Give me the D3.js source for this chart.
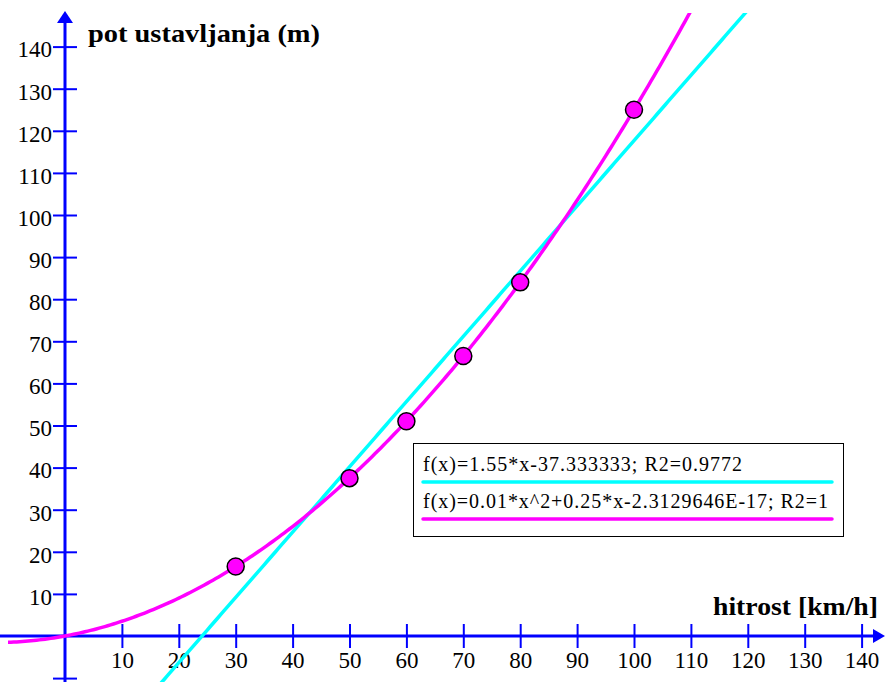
<!DOCTYPE html>
<html><head><meta charset="utf-8">
<script src="https://cdn.jsdelivr.net/npm/d3@7"></script>
<style>body{margin:0;background:#fff}svg{display:block}</style>
</head><body>
<svg id="c" width="885" height="682"></svg>
<script>
const speeds = [30, 50, 60, 70, 80, 100];
const distances = [16.5, 37.5, 51, 66.5, 84, 125];
const xTicks = [10,20,30,40,50,60,70,80,90,100,110,120,130,140];
const yTicks = [-10,10,20,30,40,50,60,70,80,90,100,110,120,130,140];
const linCoef = [1.55, -37.333333];
const quadCoef = [0.01, 0.25, -2.3129646e-17];
const legendLabels = ["f(x)=1.55*x-37.333333; R2=0.9772", "f(x)=0.01*x^2+0.25*x-2.3129646E-17; R2=1"];
const xTitle = "hitrost [km/h]";
const yTitle = "pot ustavljanja (m)";

const FONT = "'Liberation Serif'";
const W = 885, H = 682;
const x = d3.scaleLinear().domain([0, 140]).range([65, 861.6]);
const y = d3.scaleLinear().domain([0, 140]).range([636, 46.6]);
const svg = d3.select("#c");
const blue = "#0000ff", cyan = "#00ffff", mag = "#ff00ff";

svg.append("defs").append("clipPath").attr("id","clip")
  .append("rect").attr("x", 8).attr("y", 13).attr("width", W - 8).attr("height", H - 13);

// axes
svg.append("line").attr("x1", 0).attr("x2", W - 8).attr("y1", y(0)).attr("y2", y(0))
  .attr("stroke", blue).attr("stroke-width", 3);
svg.append("path").attr("d", `M${W},${y(0)} L${W-12},${y(0)-7} L${W-12},${y(0)+7} Z`).attr("fill", blue);
svg.append("line").attr("x1", x(0)).attr("x2", x(0)).attr("y1", H).attr("y2", 20)
  .attr("stroke", blue).attr("stroke-width", 3);
svg.append("path").attr("d", `M${x(0)},11 L${x(0)-8},23 L${x(0)+8},23 Z`).attr("fill", blue);

const xa = svg.append("g").attr("transform", `translate(0,${y(0)})`)
  .call(d3.axisBottom(x).tickValues(xTicks).tickSizeInner(12).tickSizeOuter(0).tickPadding(4));
xa.attr("font-family", null).attr("font-size", null);
xa.select(".domain").remove();
xa.selectAll(".tick line").attr("stroke", blue).attr("stroke-width", 2).attr("y1", -12);
xa.selectAll(".tick text").style("font-size", "23px").style("font-family", FONT).attr("fill", "#000");

const ya = svg.append("g").attr("transform", `translate(${x(0)},0)`)
  .call(d3.axisLeft(y).tickValues(yTicks).tickSizeInner(12).tickSizeOuter(0).tickPadding(1)
    .tickFormat(d => d < 0 ? "" : d));
ya.attr("font-family", null).attr("font-size", null);
ya.select(".domain").remove();
ya.selectAll(".tick line").attr("stroke", blue).attr("stroke-width", 2).attr("x1", 12);
ya.selectAll(".tick text").style("font-size", "23px").style("font-family", FONT).attr("fill", "#000").attr("dy", "0.45em");

// titles
svg.append("text").attr("x", 88).attr("y", 42).style("font-family", FONT).style("font-size", "26px")
  .style("font-weight", "bold").attr("textLength", 232).attr("lengthAdjust", "spacingAndGlyphs").text(yTitle);
svg.append("text").attr("x", 713).attr("y", 615).style("font-family", FONT).style("font-size", "26px")
  .style("font-weight", "bold").attr("textLength", 165).attr("lengthAdjust", "spacingAndGlyphs").text(xTitle);

// fitted curves
const xs = d3.range(-12, 141, 0.5);
const g = svg.append("g").attr("clip-path", "url(#clip)");
const line = d3.line().x(d => x(d[0])).y(d => y(d[1]));
g.append("path").datum(xs.map(v => [v, linCoef[0]*v + linCoef[1]]))
  .attr("d", line).attr("fill", "none").attr("stroke", cyan).attr("stroke-width", 3.5);
g.append("path").datum(xs.map(v => [v, quadCoef[0]*v*v + quadCoef[1]*v + quadCoef[2]]))
  .attr("d", line).attr("fill", "none").attr("stroke", mag).attr("stroke-width", 3.5);

// points
svg.selectAll("circle.pt").data(speeds).join("circle").attr("class","pt")
  .attr("cx", d => x(d)).attr("cy", (d, i) => y(distances[i])).attr("r", 8.5)
  .attr("fill", mag).attr("stroke", "#000").attr("stroke-width", 1.5);

// legend
const lg = svg.append("g");
lg.append("rect").attr("x", 413.5).attr("y", 443.5).attr("width", 430).attr("height", 93)
  .attr("fill", "#fff").attr("stroke", "#000").attr("stroke-width", 1);
const lc = [cyan, mag];
const lw = [319, 405];
legendLabels.forEach((t, i) => {
  lg.append("text").attr("x", 423).attr("y", 471 + i*37).style("font-family", FONT).style("font-size", "20px")
    .attr("textLength", lw[i]).attr("lengthAdjust", "spacing").text(t);
  lg.append("line").attr("x1", 423).attr("x2", 832).attr("y1", 482 + i*37).attr("y2", 482 + i*37)
    .attr("stroke", lc[i]).attr("stroke-width", 3.5).attr("stroke-linecap", "round");
});
</script>
</body></html>
